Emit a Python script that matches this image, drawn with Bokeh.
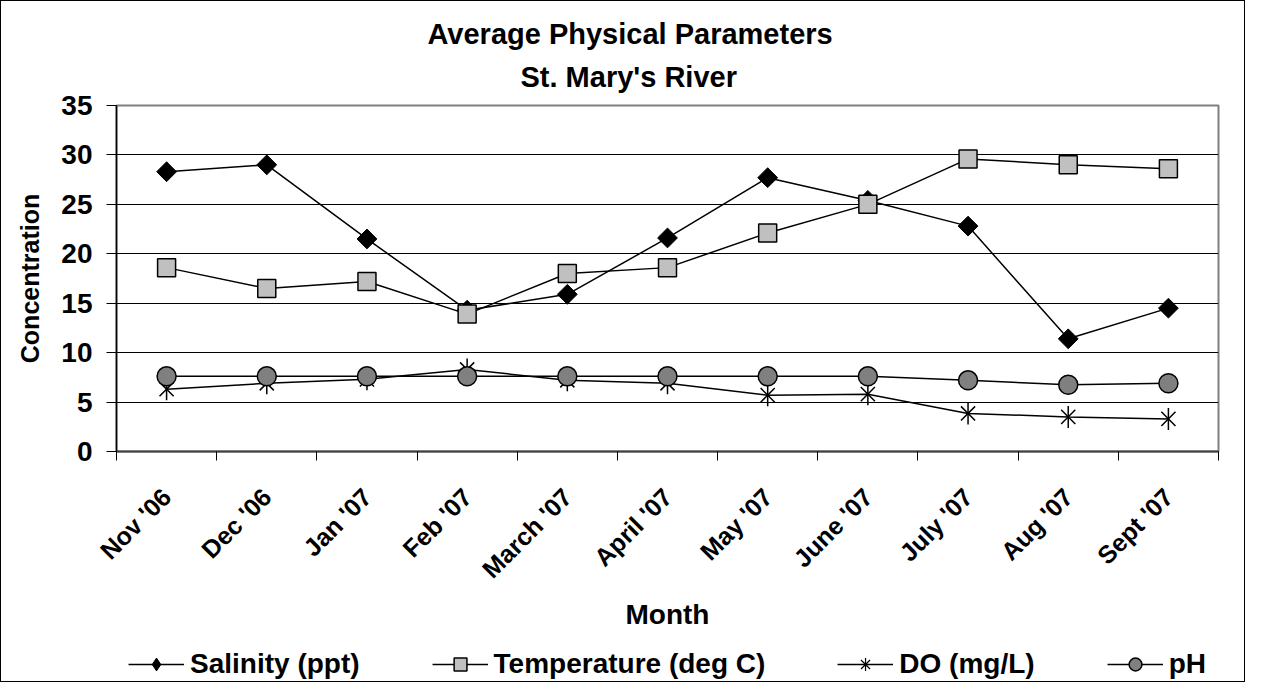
import numpy as np
from bokeh.plotting import figure
from bokeh.layouts import column
from bokeh.models import (FixedTicker, Title, Legend, LegendItem, ColumnDataSource, Range1d)
from bokeh.embed import file_html
from bokeh.resources import INLINE

# ---- data ----
months = ["Nov '06", "Dec '06", "Jan '07", "Feb '07", "March '07", "April '07",
          "May '07", "June '07", "July '07", "Aug '07", "Sept '07"]
salinity = [28.3, 29.0, 21.5, 14.3, 15.9, 21.6, 27.7, 25.4, 22.8, 11.4, 14.5]
temperature = [18.6, 16.5, 17.2, 13.9, 18.0, 18.6, 22.1, 25.0, 29.6, 29.0, 28.6]
do_mgl = [6.3, 6.9, 7.3, 8.3, 7.2, 6.9, 5.7, 5.8, 3.85, 3.5, 3.3]
ph = [7.6, 7.6, 7.6, 7.6, 7.6, 7.6, 7.6, 7.6, 7.2, 6.75, 6.9]
y_ticks = [0, 5, 10, 15, 20, 25, 30, 35]
series_labels = ["Salinity (ppt)", "Temperature (deg C)", "DO (mg/L)", "pH"]

x = list(range(len(months)))
FONT = "Liberation Sans"

src = ColumnDataSource(dict(x=x, sal=salinity, temp=temperature, do=do_mgl, ph=ph))


def add_series(fig, for_legend=False):
    l1 = fig.line("x", "sal", source=src, line_color="black", line_width=1.5)
    if for_legend:
        m1 = fig.scatter("x", "sal", source=src, marker="diamond", size=20,
                         fill_color="black", line_color="black", line_width=1)
    else:
        m1 = fig.scatter("x", "sal", source=src, marker="square", angle=np.pi / 4, size=14,
                         fill_color="black", line_color="black", line_width=1)
    l2 = fig.line("x", "temp", source=src, line_color="black", line_width=1.5)
    m2 = fig.scatter("x", "temp", source=src, marker="square", size=18,
                     fill_color="#C0C0C0", line_color="black", line_width=1.5)
    l3 = fig.line("x", "do", source=src, line_color="black", line_width=1.5)
    if for_legend:
        m3 = [fig.scatter("x", "do", source=src, marker="asterisk", size=20,
                          line_color="black", line_width=1.2)]
    else:
        m3 = [fig.scatter("x", "do", source=src, marker="x", size=20, line_color="black", line_width=1.5),
              fig.scatter("x", "do", source=src, marker="dash", angle=np.pi / 2, size=22,
                          line_color="black", line_width=1.5)]
    l4 = fig.line("x", "ph", source=src, line_color="black", line_width=1.5)
    m4 = fig.scatter("x", "ph", source=src, marker="circle", size=19,
                     fill_color="#808080", line_color="black", line_width=1.5)
    return [[l1, m1], [l2, m2], [l3] + m3, [l4, m4]]


p = figure(width=1243, height=646, output_backend="svg", toolbar_location=None,
           x_range=Range1d(-0.5, len(months) - 0.5), y_range=Range1d(0, 35),
           min_border_left=115, min_border_right=26, min_border_top=104, min_border_bottom=196,
           background_fill_color="white", border_fill_color="white")

# titles
t2 = Title(text="St. Mary's River", align="left", offset=404, text_font_size="29px",
           text_font=FONT, text_font_style="bold", text_color="black",
           vertical_align="top", standoff=22)
p.add_layout(t2, "above")
t1 = Title(text="Average Physical Parameters", align="left", offset=311, text_font_size="29px",
           text_font=FONT, text_font_style="bold", text_color="black",
           vertical_align="bottom", standoff=0)
p.add_layout(t1, "above")

# x axis
p.xaxis.ticker = FixedTicker(ticks=x, minor_ticks=[i - 0.5 for i in range(len(months) + 1)])
p.xaxis.major_label_overrides = {i: m for i, m in enumerate(months)}
p.xaxis.major_label_orientation = np.pi / 4
p.xaxis.major_tick_line_color = None
p.xaxis.major_tick_out = 10
p.xaxis.major_tick_in = 0
p.xaxis.minor_tick_out = 9
p.xaxis.minor_tick_in = 0
p.xaxis.minor_tick_line_color = "black"
p.xaxis.minor_tick_line_width = 1
p.xaxis.major_label_standoff = 31
p.xaxis.major_label_text_font = FONT
p.xaxis.major_label_text_font_style = "bold"
p.xaxis.major_label_text_font_size = "25px"
p.xaxis.major_label_text_color = "black"
p.xaxis.axis_label = "Month"
p.xaxis.axis_label_text_font = FONT
p.xaxis.axis_label_text_font_style = "bold"
p.xaxis.axis_label_text_font_size = "28px"
p.xaxis.axis_label_text_color = "black"
p.xaxis.axis_label_standoff = 3
p.xaxis.axis_line_color = "#404040"
p.xaxis.axis_line_width = 2

# y axis
p.yaxis.ticker = FixedTicker(ticks=y_ticks)
p.yaxis.minor_tick_line_color = None
p.yaxis.major_tick_out = 10
p.yaxis.major_tick_in = 0
p.yaxis.major_tick_line_color = "black"
p.yaxis.major_label_standoff = 14
p.yaxis.major_label_text_font = FONT
p.yaxis.major_label_text_font_style = "bold"
p.yaxis.major_label_text_font_size = "28px"
p.yaxis.major_label_text_color = "black"
p.yaxis.axis_label = "Concentration"
p.yaxis.axis_label_text_font = FONT
p.yaxis.axis_label_text_font_style = "bold"
p.yaxis.axis_label_text_font_size = "25px"
p.yaxis.axis_label_text_color = "black"
p.yaxis.axis_label_standoff = 14
p.yaxis.axis_line_color = "black"
p.yaxis.axis_line_width = 1.5

p.xgrid.visible = False
p.ygrid.ticker = FixedTicker(ticks=y_ticks)
p.ygrid.grid_line_color = "black"
p.ygrid.grid_line_width = 1
p.outline_line_color = "#808080"
p.outline_line_width = 2

add_series(p)

# legend strip (separate figure below the chart; its data view is out of range so only the legend shows)
pl = figure(width=1243, height=34, output_backend="svg", toolbar_location=None,
            x_range=Range1d(-0.5, len(months) - 0.5), y_range=Range1d(1000, 1001),
            x_axis_type=None, y_axis_type=None, min_border=0,
            min_border_left=0, min_border_right=0, min_border_top=0, min_border_bottom=0,
            outline_line_color=None, background_fill_color="white", border_fill_color="white")
leg_renderers = add_series(pl, for_legend=True)

legend = Legend(items=[LegendItem(label=lab, renderers=rs)
                       for lab, rs in zip(series_labels, leg_renderers)],
                orientation="horizontal", location="center",
                glyph_width=56, glyph_height=32, label_standoff=6, spacing=72,
                padding=0, margin=0, border_line_color=None, background_fill_alpha=0,
                label_text_font=FONT, label_text_font_style="bold", label_text_font_size="28px",
                label_text_color="black")
pl.add_layout(legend, "center")

layout = column(p, pl, spacing=0)
layout.styles = {"border": "1px solid black"}

open("out.html", "w").write(file_html(layout, INLINE))
